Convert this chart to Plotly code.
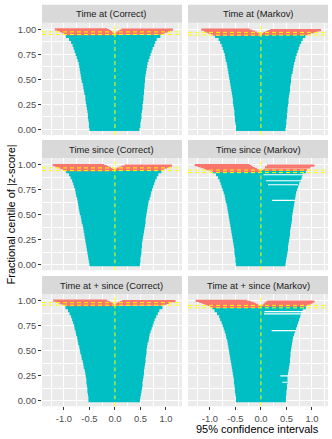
import plotly.graph_objects as go

# ---- data ----
panel_titles = ["Time at (Correct)", "Time at (Markov)",
                "Time since (Correct)", "Time since (Markov)",
                "Time at + since (Correct)", "Time at + since (Markov)"]

# fractional centiles of |z| for the intervals that cover zero
centile = [0.00, 0.03, 0.06, 0.09, 0.12, 0.15, 0.18, 0.21, 0.24, 0.27, 0.30,
           0.33, 0.36, 0.39, 0.42, 0.45, 0.48, 0.51, 0.54, 0.57, 0.60, 0.63,
           0.66, 0.69, 0.72, 0.75, 0.78, 0.81, 0.84, 0.87, 0.90, 0.93]

at_correct_lo = [-0.50, -0.51, -0.51, -0.52, -0.53, -0.53, -0.54, -0.55, -0.56, -0.57, -0.58,
                 -0.58, -0.60, -0.61, -0.62, -0.63, -0.65, -0.66, -0.67, -0.68, -0.69, -0.70,
                 -0.71, -0.73, -0.75, -0.77, -0.79, -0.81, -0.83, -0.86, -0.90, -0.96]
at_correct_hi = [0.48, 0.50, 0.50, 0.51, 0.52, 0.52, 0.53, 0.54, 0.54, 0.55, 0.56,
                 0.56, 0.57, 0.57, 0.58, 0.58, 0.59, 0.59, 0.60, 0.61, 0.62, 0.63,
                 0.64, 0.66, 0.68, 0.70, 0.72, 0.74, 0.77, 0.79, 0.82, 0.89]
at_markov_lo = [-0.49, -0.49, -0.50, -0.51, -0.51, -0.52, -0.52, -0.53, -0.54, -0.55, -0.55,
                -0.56, -0.57, -0.58, -0.59, -0.60, -0.61, -0.62, -0.63, -0.64, -0.65, -0.66,
                -0.67, -0.69, -0.70, -0.71, -0.73, -0.75, -0.77, -0.80, -0.83, -0.90]
at_markov_hi = [0.48, 0.49, 0.50, 0.50, 0.51, 0.51, 0.52, 0.52, 0.53, 0.54, 0.54,
                0.55, 0.56, 0.57, 0.57, 0.58, 0.59, 0.59, 0.60, 0.62, 0.63, 0.64,
                0.65, 0.67, 0.68, 0.70, 0.72, 0.74, 0.76, 0.79, 0.82, 0.87]
since_correct_lo = [-0.50, -0.51, -0.52, -0.53, -0.54, -0.55, -0.56, -0.57, -0.58, -0.59, -0.60,
                    -0.61, -0.62, -0.63, -0.65, -0.66, -0.67, -0.69, -0.70, -0.71, -0.72, -0.73,
                    -0.74, -0.76, -0.77, -0.78, -0.80, -0.82, -0.84, -0.87, -0.90, -0.96]
since_correct_hi = [0.49, 0.50, 0.50, 0.51, 0.52, 0.52, 0.53, 0.53, 0.54, 0.55, 0.56,
                    0.57, 0.58, 0.59, 0.60, 0.60, 0.61, 0.62, 0.63, 0.64, 0.65, 0.66,
                    0.68, 0.70, 0.71, 0.73, 0.75, 0.77, 0.79, 0.82, 0.85, 0.91]
since_markov_lo = [-0.49, -0.50, -0.50, -0.51, -0.52, -0.52, -0.53, -0.54, -0.55, -0.56, -0.57,
                   -0.58, -0.59, -0.60, -0.61, -0.62, -0.63, -0.64, -0.65, -0.66, -0.67, -0.69,
                   -0.70, -0.71, -0.73, -0.75, -0.77, -0.79, -0.81, -0.84, -0.88, -0.95]
since_markov_hi = [0.48, 0.49, 0.50, 0.51, 0.52, 0.53, 0.53, 0.54, 0.55, 0.56, 0.57,
                   0.57, 0.58, 0.59, 0.60, 0.61, 0.61, 0.62, 0.63, 0.64, 0.65, 0.66,
                   0.67, 0.68, 0.69, 0.71, 0.73, 0.75, 0.78, 0.80, 0.82, 0.88]
both_correct_lo = [-0.52, -0.52, -0.53, -0.54, -0.54, -0.55, -0.56, -0.56, -0.57, -0.58, -0.59,
                   -0.61, -0.62, -0.63, -0.65, -0.66, -0.68, -0.69, -0.70, -0.72, -0.73, -0.74,
                   -0.76, -0.77, -0.79, -0.80, -0.82, -0.84, -0.86, -0.89, -0.92, -0.97]
both_correct_hi = [0.49, 0.50, 0.51, 0.52, 0.53, 0.54, 0.54, 0.55, 0.56, 0.57, 0.57,
                   0.58, 0.59, 0.60, 0.60, 0.61, 0.62, 0.62, 0.63, 0.64, 0.66, 0.67,
                   0.68, 0.70, 0.72, 0.74, 0.76, 0.78, 0.81, 0.84, 0.87, 0.93]
both_markov_lo = [-0.49, -0.49, -0.50, -0.51, -0.51, -0.52, -0.53, -0.53, -0.54, -0.55, -0.56,
                  -0.57, -0.58, -0.59, -0.60, -0.61, -0.62, -0.63, -0.64, -0.65, -0.66, -0.68,
                  -0.69, -0.71, -0.73, -0.75, -0.77, -0.80, -0.82, -0.86, -0.91, -0.96]
both_markov_hi = [0.49, 0.49, 0.50, 0.50, 0.51, 0.51, 0.52, 0.52, 0.52, 0.53, 0.54,
                  0.55, 0.56, 0.57, 0.57, 0.58, 0.58, 0.59, 0.60, 0.61, 0.62, 0.63,
                  0.65, 0.67, 0.69, 0.71, 0.73, 0.75, 0.77, 0.79, 0.82, 0.88]

# intervals that miss zero (below zero / above zero): centile, lower, upper
miss_neg_y = [[0.952, 0.962, 0.972, 0.982, 0.992, 1.000],
              [0.946, 0.956, 0.966, 0.976, 0.986, 0.996],
              [0.945, 0.955, 0.965, 0.975, 0.985, 0.995],
              [0.935, 0.945, 0.955, 0.965, 0.975, 0.985, 0.995],
              [0.955, 0.964, 0.973, 0.982, 0.991, 1.000],
              [0.938, 0.948, 0.958, 0.968, 0.978, 0.988, 0.998]]
miss_neg_lo = [[-0.97, -1.00, -1.04, -1.08, -1.13, -1.18],
               [-0.94, -0.98, -1.03, -1.08, -1.12, -1.17],
               [-0.97, -1.02, -1.07, -1.12, -1.17, -1.22],
               [-0.96, -1.01, -1.07, -1.12, -1.18, -1.24, -1.30],
               [-0.98, -1.02, -1.07, -1.11, -1.16, -1.21],
               [-0.96, -1.00, -1.05, -1.10, -1.15, -1.21, -1.28]]
miss_neg_hi = [[-0.01, -0.03, -0.05, -0.08, -0.11, -0.15],
               [-0.01, -0.04, -0.08, -0.12, -0.17, -0.22],
               [-0.01, -0.04, -0.08, -0.12, -0.16, -0.21],
               [-0.01, -0.04, -0.08, -0.12, -0.16, -0.19, -0.22],
               [-0.01, -0.03, -0.06, -0.09, -0.12, -0.16],
               [-0.01, -0.03, -0.06, -0.10, -0.14, -0.20, -0.27]]
miss_pos_y = [[0.957, 0.967, 0.977, 0.987, 0.997],
              [0.951, 0.961, 0.971, 0.981, 0.991],
              [0.950, 0.960, 0.970, 0.980, 0.990],
              [0.948, 0.972, 0.990],
              [0.959, 0.968, 0.977, 0.986, 0.995],
              [0.950, 0.960, 0.970, 0.980, 0.990]]
miss_pos_lo = [[0.01, 0.03, 0.06, 0.09, 0.13],
               [0.02, 0.05, 0.09, 0.13, 0.18],
               [0.01, 0.04, 0.08, 0.13, 0.19],
               [0.05, 0.08, 0.12],
               [0.01, 0.03, 0.06, 0.10, 0.14],
               [0.03, 0.05, 0.07, 0.09, 0.12]]
miss_pos_hi = [[0.94, 0.98, 1.03, 1.08, 1.14],
               [0.92, 0.98, 1.05, 1.11, 1.18],
               [0.93, 0.97, 1.02, 1.07, 1.12],
               [0.90, 0.97, 1.05],
               [0.96, 1.01, 1.06, 1.12, 1.19],
               [0.87, 0.92, 0.97, 1.01, 1.05]]

# white (blank) intervals seen in the Markov panels
blank_y = [[], [], [], [0.898, 0.838, 0.798, 0.642], [], [0.890, 0.867, 0.700, 0.247, 0.184]]
blank_lo = [[], [], [], [0.05, 0.10, 0.14, 0.22], [], [0.07, 0.06, 0.21, 0.38, 0.42]]
blank_hi = [[], [], [], [0.83, 0.80, 0.73, 0.68], [], [0.87, 0.84, 0.68, 0.55, 0.52]]

# Monte Carlo limits for coverage (yellow lines)
cover_lo = [0.948, 0.942, 0.940, 0.920, 0.954, 0.928]
cover_hi = [0.974, 0.969, 0.967, 0.945, 0.980, 0.952]

x_ticks = [-1.0, -0.5, 0.0, 0.5, 1.0]
x_ticktext = ["-1.0", "-0.5", "0.0", "0.5", "1.0"]
y_ticks = [0.0, 0.25, 0.5, 0.75, 1.0]
y_ticktext = ["0.00", "0.25", "0.50", "0.75", "1.00"]

cover_lows = [at_correct_lo, at_markov_lo, since_correct_lo, since_markov_lo, both_correct_lo, both_markov_lo]
cover_highs = [at_correct_hi, at_markov_hi, since_correct_hi, since_markov_hi, both_correct_hi, both_markov_hi]

CYAN = "#00BFC4"
SALMON = "#F8766D"
W, H = 332, 439
FONT = "Liberation Sans, Arial, sans-serif"

col_px = [(42, 182), (188, 328)]
row_top = [22.7, 158.0, 294.0]
panel_h = 112.3
strip_h = 18


def segs(ys, los, his):
    xs, yy = [], []
    for y, a, b in zip(ys, los, his):
        xs += [a, b, None]
        yy += [y, y, None]
    return xs, yy


fig = go.Figure()
shapes = []
annotations = []

for i in range(6):
    r, c = divmod(i, 2)
    sfx = "" if i == 0 else str(i + 1)
    xa, ya = "x" + sfx, "y" + sfx

    x, y = segs(centile, cover_lows[i], cover_highs[i])
    fig.add_trace(go.Scatter(x=x, y=y, mode="lines", xaxis=xa, yaxis=ya,
                             line=dict(color=CYAN, width=3.2), hoverinfo="skip"))
    xn, yn = segs(miss_neg_y[i], miss_neg_lo[i], miss_neg_hi[i])
    xp, yp = segs(miss_pos_y[i], miss_pos_lo[i], miss_pos_hi[i])
    fig.add_trace(go.Scatter(x=xn + xp, y=yn + yp, mode="lines", xaxis=xa, yaxis=ya,
                             line=dict(color=SALMON, width=2.2), hoverinfo="skip"))
    if blank_y[i]:
        xb, yb = segs(blank_y[i], blank_lo[i], blank_hi[i])
        fig.add_trace(go.Scatter(x=xb, y=yb, mode="lines", xaxis=xa, yaxis=ya,
                                 line=dict(color="white", width=1.1), hoverinfo="skip"))

    x0, x1 = col_px[c]
    top = row_top[r]
    bot = top + panel_h
    fig.layout["xaxis" + sfx] = dict(
        domain=[x0 / W, x1 / W], anchor=ya, range=[-1.43, 1.315],
        tickvals=x_ticks, ticktext=x_ticktext, showticklabels=(r == 2),
        ticks="outside" if r == 2 else "", ticklen=3, tickwidth=1, tickcolor="#333333",
        tickfont=dict(size=9.4, color="#4D4D4D", family=FONT),
        showgrid=True, gridcolor="white", gridwidth=1, zeroline=False, showline=False,
        minor=dict(dtick=0.25, tick0=0, showgrid=True, gridcolor="white", gridwidth=0.5))
    fig.layout["yaxis" + sfx] = dict(
        domain=[1 - bot / H, 1 - top / H], anchor=xa, range=[-0.057, 1.066],
        tickvals=y_ticks, ticktext=y_ticktext, showticklabels=(c == 0),
        ticks="outside" if c == 0 else "", ticklen=3, tickwidth=1, tickcolor="#333333",
        tickfont=dict(size=9.4, color="#4D4D4D", family=FONT),
        showgrid=True, gridcolor="white", gridwidth=1, zeroline=False, showline=False,
        minor=dict(dtick=0.125, tick0=0, showgrid=True, gridcolor="white", gridwidth=0.5))

    # reference lines
    dash = dict(color="#FFFF00", width=1, dash="4px,3px")
    for yv in (cover_lo[i], cover_hi[i]):
        shapes.append(dict(type="line", xref=xa + " domain", yref=ya, x0=0, x1=1,
                           y0=yv, y1=yv, line=dash, layer="above"))
    shapes.append(dict(type="line", xref=xa, yref=ya + " domain", x0=0, x1=0,
                       y0=0, y1=1, line=dash, layer="above"))

    # facet strip
    shapes.append(dict(type="rect", xref="paper", yref="paper",
                       x0=x0 / W, x1=x1 / W, y0=1 - top / H, y1=1 - (top - strip_h) / H,
                       fillcolor="#D9D9D9", line=dict(width=0), layer="below"))
    annotations.append(dict(text=panel_titles[i], xref="paper", yref="paper",
                            x=(x0 + x1) / 2 / W, y=1 - (top - strip_h / 2) / H,
                            showarrow=False, xanchor="center", yanchor="middle",
                            font=dict(size=9.4, color="#1A1A1A", family=FONT)))

annotations.append(dict(text="95% confidence intervals", xref="paper", yref="paper",
                        x=257.5 / W, y=1 - 429.3 / H, showarrow=False,
                        xanchor="center", yanchor="middle",
                        font=dict(size=11, color="black", family=FONT)))
annotations.append(dict(text="Fractional centile of |z-score|", xref="paper", yref="paper",
                        x=10 / W, y=1 - 214.5 / H, showarrow=False, textangle=-90,
                        xanchor="center", yanchor="middle",
                        font=dict(size=11, color="black", family=FONT)))

fig.update_layout(width=W, height=H, margin=dict(l=0, r=0, t=0, b=0),
                  showlegend=False, plot_bgcolor="#EBEBEB", paper_bgcolor="white",
                  shapes=shapes, annotations=annotations, font=dict(family=FONT))

# the page's default body margin would push the chart 8px in
fig.write_html("out.html", config={"displayModeBar": False},
               post_script="document.body.style.margin='0';")
